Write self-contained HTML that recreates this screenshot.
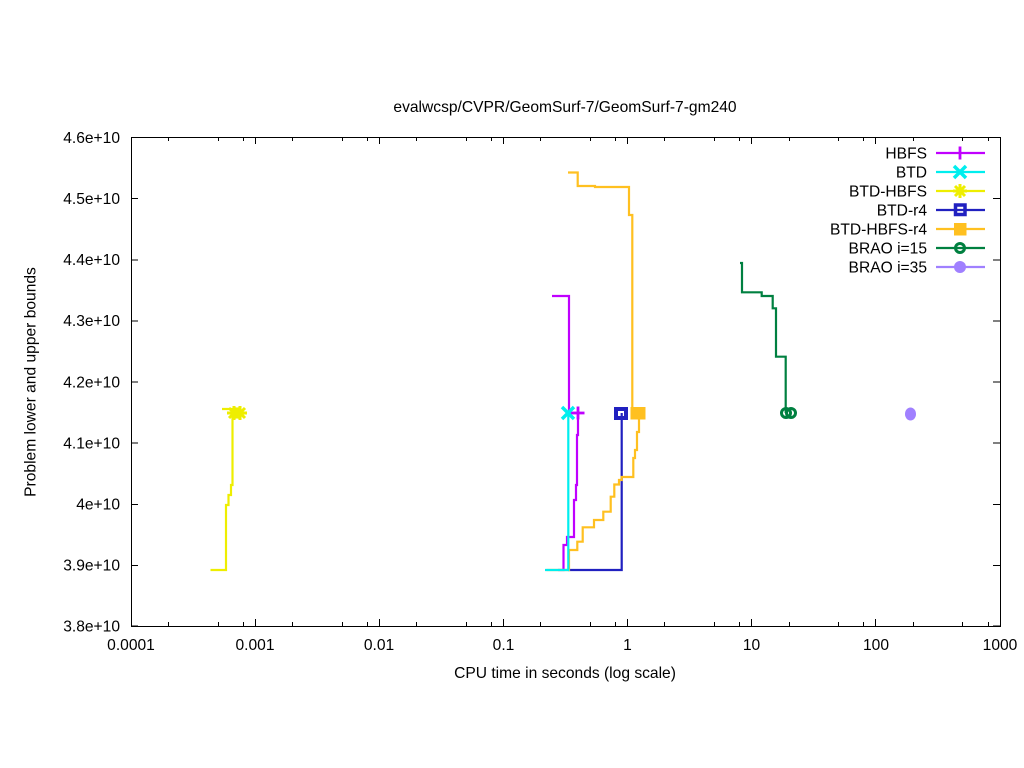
<!DOCTYPE html>
<html><head><meta charset="utf-8"><style>
html,body{margin:0;padding:0;background:#fff;}
svg{display:block;}
text{font-family:"Liberation Sans",Arial,sans-serif;font-size:15.6px;fill:#000;}
</style></head><body>
<svg width="1024" height="768" viewBox="0 0 1024 768" xmlns="http://www.w3.org/2000/svg">
<rect x="0" y="0" width="1024" height="768" fill="#fff"/>
<text x="565" y="112" text-anchor="middle">evalwcsp/CVPR/GeomSurf-7/GeomSurf-7-gm240</text>
<g stroke="#000" stroke-width="1" fill="none" shape-rendering="crispEdges">
<rect x="131.5" y="137.5" width="869" height="489"/>
<path d="M131,137.5h7M131,198.6h7M131,259.75h7M131,320.9h7M131,382h7M131,443.1h7M131,504.25h7M131,565.4h7M131,626h7"/>
<path d="M1000,137.5h-7M1000,198.6h-7M1000,259.75h-7M1000,320.9h-7M1000,382h-7M1000,443.1h-7M1000,504.25h-7M1000,565.4h-7M1000,626h-7"/>
<path d="M131.5,626v-7M255.5,626v-7M379.5,626v-7M503.5,626v-7M627.5,626v-7M751.5,626v-7M875.5,626v-7M1000.5,626v-7"/>
<path d="M131.5,137v7M255.5,137v7M379.5,137v7M503.5,137v7M627.5,137v7M751.5,137v7M875.5,137v7M1000.5,137v7"/>
<path d="M168.5,626v-4M218.5,626v-4M243.5,626v-4M292.5,626v-4M342.5,626v-4M367.5,626v-4M416.5,626v-4M466.5,626v-4M491.5,626v-4M540.5,626v-4M590.5,626v-4M615.5,626v-4M664.5,626v-4M714.5,626v-4M739.5,626v-4M789.5,626v-4M838.5,626v-4M863.5,626v-4M913.5,626v-4M962.5,626v-4M988.5,626v-4"/>
<path d="M168.5,137v4M218.5,137v4M243.5,137v4M292.5,137v4M342.5,137v4M367.5,137v4M416.5,137v4M466.5,137v4M491.5,137v4M540.5,137v4M590.5,137v4M615.5,137v4M664.5,137v4M714.5,137v4M739.5,137v4M789.5,137v4M838.5,137v4M863.5,137v4M913.5,137v4M962.5,137v4M988.5,137v4"/>
</g>
<g text-anchor="end">
<text x="120" y="143">4.6e+10</text>
<text x="120" y="204">4.5e+10</text>
<text x="120" y="265">4.4e+10</text>
<text x="120" y="326">4.3e+10</text>
<text x="120" y="387.5">4.2e+10</text>
<text x="120" y="448.5">4.1e+10</text>
<text x="120" y="509.5">4e+10</text>
<text x="120" y="570.5">3.9e+10</text>
<text x="120" y="631.5">3.8e+10</text>
</g>
<g text-anchor="middle">
<text x="131" y="650">0.0001</text>
<text x="255" y="650">0.001</text>
<text x="379" y="650">0.01</text>
<text x="503.5" y="650">0.1</text>
<text x="627.5" y="650">1</text>
<text x="751.5" y="650">10</text>
<text x="876" y="650">100</text>
<text x="1000" y="650">1000</text>
</g>
<text x="565" y="678" text-anchor="middle">CPU time in seconds (log scale)</text>
<text transform="translate(35.5,382) rotate(-90)" text-anchor="middle">Problem lower and upper bounds</text>

<g fill="none" stroke-width="2.2" stroke-linejoin="miter" stroke-linecap="butt">
<path stroke="#eeee00" d="M222,409 H232.5 V413"/>
<path stroke="#eeee00" d="M232.5,413 V485 H231 V495 H228.5 V505 H226 V570 H210.5"/>
<path stroke="#c000ff" d="M552,296 H569 V413 H578"/>
<path stroke="#c000ff" d="M578,413 V435 H577 V485 H576 V500 H574 V537 H567 V545 H563.5 V570 H558"/>
<path stroke="#2020c0" d="M568,570 H621.7 V413"/>
<path stroke="#ffc020" d="M568,172.5 H577.7 V186 H595 V187 H629 V215 H632.3 V413 H638"/>
<path stroke="#ffc020" d="M639,413 V432 H637 V450 H635 V458 H633.3 V477 H621.7 V480 H619 V484.5 H614.3 V496.7 H610.7 V511.7 H603.3 V520 H594 V527.3 H582.7 V541.7 H577.3 V550 H569 V570 H546.5"/>
<path stroke="#00eeee" d="M545,570 H568.3 V413"/>
<path stroke="#008040" d="M740,263 H742 V292.3 H761.7 V296 H772.7 V308.3 H776 V356.7 H785.7 V413"/>
</g>

<g stroke="#eeee00" stroke-width="3" fill="none">
<path d="M227,413h14M234,406v14M229,408l10,10M239,408l-10,10"/>
<path d="M233,413h14M240,406v14M235,408l10,10M245,408l-10,10"/>
</g>
<path stroke="#c000ff" stroke-width="2.8" fill="none" d="M571.5,413h13M578,406.5v13"/>
<path stroke="#00eeee" stroke-width="3.5" fill="none" d="M562,407l12,12M574,407l-12,12"/>
<rect x="616" y="409" width="10" height="9" fill="none" stroke="#2020c0" stroke-width="4"/>
<rect x="630.5" y="407" width="15" height="12.5" fill="#ffc020"/>
<g stroke="#008040" stroke-width="3" fill="none">
<circle cx="786" cy="413" r="4.5"/>
<circle cx="791" cy="413" r="4.5"/>
</g>
<ellipse cx="910.5" cy="414" rx="5.5" ry="6.5" fill="#a080ff"/>

<g text-anchor="end">
<text x="927" y="158.5">HBFS</text>
<text x="927" y="177.5">BTD</text>
<text x="927" y="196.5">BTD-HBFS</text>
<text x="927" y="215.5">BTD-r4</text>
<text x="927" y="234.5">BTD-HBFS-r4</text>
<text x="927" y="253.5">BRAO i=15</text>
<text x="927" y="272.5">BRAO i=35</text>
</g>
<g fill="none" stroke-width="2.2">
<path stroke="#c000ff" d="M936,153 H985"/>
<path stroke="#00eeee" d="M936,172 H985"/>
<path stroke="#eeee00" d="M936,191 H985"/>
<path stroke="#2020c0" d="M936,210 H985"/>
<path stroke="#ffc020" d="M936,229 H985"/>
<path stroke="#008040" d="M936,248 H985"/>
<path stroke="#a080ff" d="M936,267 H985"/>
</g>
<path stroke="#c000ff" stroke-width="2.8" fill="none" d="M960,146.5v13"/>
<path stroke="#00eeee" stroke-width="3.5" fill="none" d="M954,166l12,12M966,166l-12,12"/>
<path stroke="#eeee00" stroke-width="3" fill="none" d="M953,191h14M960,184v14M955,186l10,10M965,186l-10,10"/>
<rect x="955.5" y="205" width="9.5" height="9.5" fill="none" stroke="#2020c0" stroke-width="3.5"/>
<rect x="954" y="223" width="12.5" height="12.5" fill="#ffc020"/>
<circle cx="960" cy="248" r="4.5" fill="none" stroke="#008040" stroke-width="3"/>
<circle cx="960" cy="267" r="6" fill="#a080ff"/>
</svg>
</body></html>
